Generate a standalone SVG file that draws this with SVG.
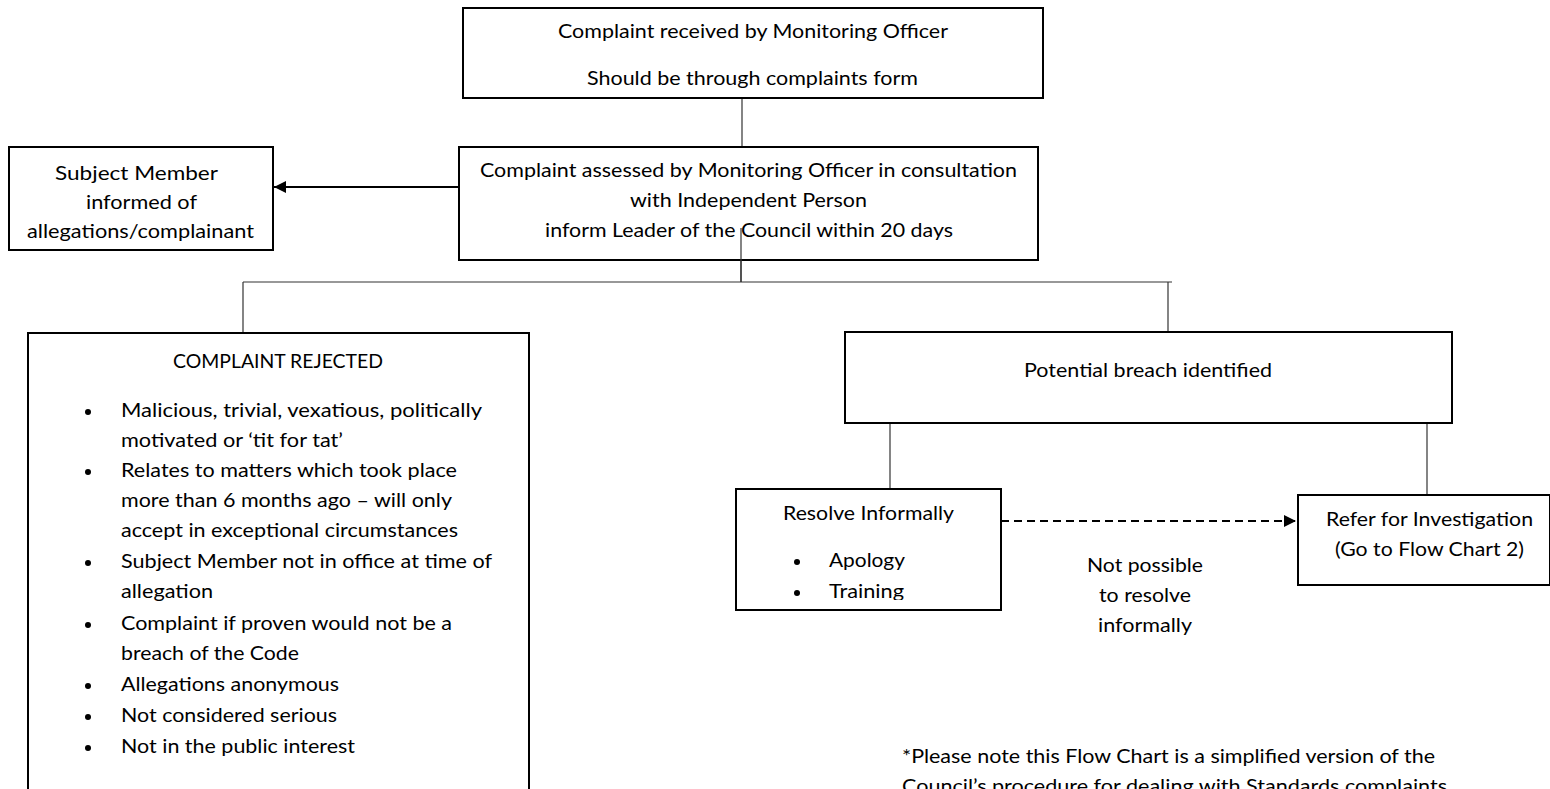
<svg xmlns="http://www.w3.org/2000/svg" width="1550" height="789" viewBox="0 0 1550 789">
<style>
.box{fill:#fff;stroke:#000;stroke-width:2}
.conn{fill:none;stroke:#333;stroke-width:1.2}
.arr{fill:none;stroke:#000;stroke-width:2}
.dash{fill:none;stroke:#000;stroke-width:2;stroke-dasharray:8 5}
text{font-family:Lato,"Liberation Sans",sans-serif;font-size:19px;fill:#000}
.bul{fill:#000}
</style>
<defs>
<marker id="ah" markerUnits="userSpaceOnUse" markerWidth="14" markerHeight="12" refX="12" refY="6" orient="auto">
<path d="M0,0 L12,6 L0,12 Z" fill="#000"/>
</marker>
<clipPath id="clipResolve"><rect x="736" y="489" width="265" height="111"/></clipPath>
</defs>
<rect width="1550" height="789" fill="#fff"/>

<g id="connectors">
<line class="conn" x1="742" y1="98" x2="742" y2="147"/>
<line class="conn" x1="741" y1="228" x2="741" y2="282"/>
<line class="conn" x1="243" y1="282" x2="1172" y2="282"/>
<line class="conn" x1="243" y1="282" x2="243" y2="333"/>
<line class="conn" x1="1168" y1="282" x2="1168" y2="332"/>
<line class="conn" x1="890" y1="423" x2="890" y2="489"/>
<line class="conn" x1="1427" y1="423" x2="1427" y2="495"/>
<line class="arr" x1="458" y1="187" x2="274" y2="187" marker-end="url(#ah)"/>
<line class="dash" x1="1001" y1="521" x2="1296" y2="521" marker-end="url(#ah)"/>
</g>

<g id="node-received">
<rect class="box" x="463" y="8" width="580" height="90"/>
<text x="558" y="38" textLength="390" lengthAdjust="spacingAndGlyphs">Complaint received by Monitoring Officer</text>
<text x="587" y="85" textLength="331" lengthAdjust="spacingAndGlyphs">Should be through complaints form</text>
</g>

<g id="node-assessed">
<rect class="box" x="459" y="147" width="579" height="113"/>
<text x="480" y="177" textLength="537" lengthAdjust="spacingAndGlyphs">Complaint assessed by Monitoring Officer in consultation</text>
<text x="630" y="207" textLength="237" lengthAdjust="spacingAndGlyphs">with Independent Person</text>
<text x="545" y="237" textLength="408" lengthAdjust="spacingAndGlyphs">inform Leader of the Council within 20 days</text>
</g>
<line class="conn" x1="741" y1="228" x2="741" y2="282"/>

<g id="node-subject">
<rect class="box" x="9" y="147" width="264" height="103"/>
<text x="55" y="180" textLength="163" lengthAdjust="spacingAndGlyphs">Subject Member</text>
<text x="86" y="209" textLength="111" lengthAdjust="spacingAndGlyphs">informed of</text>
<text x="27" y="238" textLength="227" lengthAdjust="spacingAndGlyphs">allegations/complainant</text>
</g>

<g id="node-rejected">
<rect class="box" x="28" y="333" width="501" height="480"/>
<text x="173" y="368" textLength="210" lengthAdjust="spacingAndGlyphs">COMPLAINT REJECTED</text>
<circle class="bul" cx="88" cy="412" r="3"/>
<text x="121" y="417" textLength="361" lengthAdjust="spacingAndGlyphs">Malicious, trivial,  vexatious, politically</text>
<text x="121" y="447" textLength="222" lengthAdjust="spacingAndGlyphs">motivated or ‘tit for tat’</text>
<circle class="bul" cx="88" cy="472" r="3"/>
<text x="121" y="477" textLength="336" lengthAdjust="spacingAndGlyphs">Relates to matters which took place</text>
<text x="121" y="507" textLength="331" lengthAdjust="spacingAndGlyphs">more than 6 months ago – will only</text>
<text x="121" y="537" textLength="337" lengthAdjust="spacingAndGlyphs">accept in exceptional circumstances</text>
<circle class="bul" cx="88" cy="563" r="3"/>
<text x="121" y="568" textLength="371" lengthAdjust="spacingAndGlyphs">Subject Member not in office at time of</text>
<text x="121" y="598" textLength="92" lengthAdjust="spacingAndGlyphs">allegation</text>
<circle class="bul" cx="88" cy="625" r="3"/>
<text x="121" y="630" textLength="331" lengthAdjust="spacingAndGlyphs">Complaint if proven would not be a</text>
<text x="121" y="660" textLength="178" lengthAdjust="spacingAndGlyphs">breach of the Code</text>
<circle class="bul" cx="88" cy="686" r="3"/>
<text x="121" y="691" textLength="218" lengthAdjust="spacingAndGlyphs">Allegations anonymous</text>
<circle class="bul" cx="88" cy="717" r="3"/>
<text x="121" y="722" textLength="216" lengthAdjust="spacingAndGlyphs">Not considered serious</text>
<circle class="bul" cx="88" cy="748" r="3"/>
<text x="121" y="753" textLength="234" lengthAdjust="spacingAndGlyphs">Not in the public interest</text>
</g>

<g id="node-breach">
<rect class="box" x="845" y="332" width="607" height="91"/>
<text x="1024" y="377" textLength="248" lengthAdjust="spacingAndGlyphs">Potential breach identified</text>
</g>

<g id="node-resolve">
<rect class="box" x="736" y="489" width="265" height="121"/>
<g clip-path="url(#clipResolve)">
<text x="783" y="520" textLength="171" lengthAdjust="spacingAndGlyphs">Resolve Informally</text>
<circle class="bul" cx="797" cy="562" r="3"/>
<text x="829" y="567" textLength="76" lengthAdjust="spacingAndGlyphs">Apology</text>
<circle class="bul" cx="797" cy="593" r="3"/>
<text x="829" y="598" textLength="75" lengthAdjust="spacingAndGlyphs">Training</text>
</g>
</g>

<g id="node-refer">
<rect class="box" x="1298" y="495" width="252" height="90"/>
<text x="1326" y="526" textLength="207" lengthAdjust="spacingAndGlyphs">Refer for Investigation</text>
<text x="1335" y="556" textLength="189" lengthAdjust="spacingAndGlyphs">(Go to Flow Chart 2)</text>
</g>

<g id="label-notpossible">
<text x="1087" y="572" textLength="116" lengthAdjust="spacingAndGlyphs">Not possible</text>
<text x="1099" y="602" textLength="92" lengthAdjust="spacingAndGlyphs">to resolve</text>
<text x="1098" y="632" textLength="94" lengthAdjust="spacingAndGlyphs">informally</text>
</g>

<g id="note">
<text x="902" y="763" textLength="533" lengthAdjust="spacingAndGlyphs">*Please note this Flow Chart is a simplified version of the</text>
<text x="902" y="793" textLength="545" lengthAdjust="spacingAndGlyphs">Council’s procedure for dealing with Standards complaints</text>
</g>
</svg>
